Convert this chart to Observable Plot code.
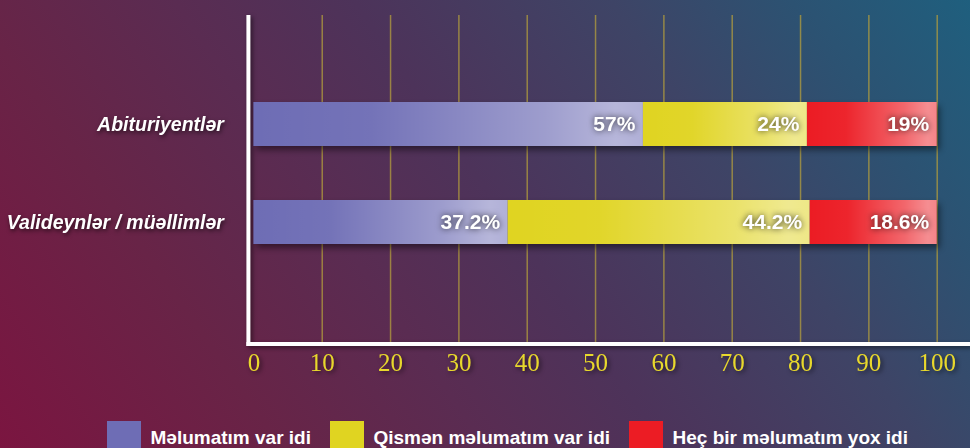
<!DOCTYPE html>
<html>
<head>
<meta charset="utf-8">
<script src="https://cdn.jsdelivr.net/npm/d3@7"></script>
<script src="https://cdn.jsdelivr.net/npm/@observablehq/plot@0.6"></script>
<style>
  html, body { margin: 0; padding: 0; width: 970px; height: 448px; overflow: hidden; }
  body {
    position: relative;
    background: linear-gradient(55deg, #7b1540 0%, #682447 22%, #5a2c52 38%, #4d335a 52%, #3e4466 72%, #2c5272 86%, #1f5f7e 100%);
    font-family: "Liberation Sans", Arial, sans-serif;
  }
  #chart { position: absolute; left: 0; top: 0; }
  #chart svg { background: transparent !important; overflow: visible; }
  #chart [aria-label^="x-axis"] text {
    fill: #e8d82c; font-family: "Liberation Serif", "Times New Roman", serif; font-size: 25px;
    filter: drop-shadow(2px 2px 2px rgba(0,0,0,0.55));
  }
  #chart [aria-label^="y-axis"] text {
    fill: #ffffff; font-family: "Liberation Sans", Arial, sans-serif; font-size: 19.5px;
    font-weight: bold; font-style: italic;
    filter: drop-shadow(1px 2px 2px rgba(0,0,0,0.6));
  }
  #chart g[aria-label="text"] { filter: drop-shadow(0px 0px 3px rgba(0,0,0,0.75)); }
  #legend { position: absolute; left: 107px; top: 421px; }
  #legend, #legend * {
    font-family: "Liberation Sans", Arial, sans-serif !important;
    font-size: 19px !important; font-weight: bold !important; color: #ffffff !important;
    background: transparent !important;
  }
  #legend > div { margin: 0 !important; }
</style>
</head>
<body>
<div id="chart"></div>
<div id="legend"></div>
<script>
// ---- data ----
const groups = ["Abituriyentlər", "Valideynlər / müəllimlər"];
const series = ["Məlumatım var idi", "Qismən məlumatım var idi", "Heç bir məlumatım yox idi"];
const abituriyentValues = [57, 24, 19];
const valideynValues = [37.2, 44.2, 18.6];
const xTicks = [0, 10, 20, 30, 40, 50, 60, 70, 80, 90, 100];
const seriesColors = ["#6e6db5", "#e0d421", "#ec1c24"];

const rows = [];
[abituriyentValues, valideynValues].forEach((vals, gi) => {
  vals.forEach((v, si) => rows.push({group: groups[gi], series: series[si], value: v}));
});

const ns = "http://www.w3.org/2000/svg";

// gradient definitions + white frame lines (positions derived from the scales / layout)
const decor = (index, scales, values, dims) => {
  const g = document.createElementNS(ns, "g");
  const x0 = scales.x(0) - 5;
  const yb = dims.height - dims.marginBottom + 1;
  g.innerHTML = `
    <defs>
      <linearGradient id="shine" x1="0" x2="1" y1="0" y2="0">
        <stop offset="0" stop-color="#ffffff" stop-opacity="0"/>
        <stop offset="0.3" stop-color="#ffffff" stop-opacity="0.04"/>
        <stop offset="0.75" stop-color="#ffffff" stop-opacity="0.33"/>
        <stop offset="0.93" stop-color="#ffffff" stop-opacity="0.5"/>
        <stop offset="1" stop-color="#ffffff" stop-opacity="0.46"/>
      </linearGradient>
    </defs>
    <g style="filter: drop-shadow(2px 2px 2px rgba(0,0,0,0.5))">
      <line x1="${x0}" y1="${dims.marginTop}" x2="${x0}" y2="${yb + 2}" stroke="#ffffff" stroke-width="4"/>
      <line x1="${x0 - 2}" y1="${yb}" x2="${dims.width}" y2="${yb}" stroke="#ffffff" stroke-width="4"/>
    </g>`;
  return g;
};

const chart = Plot.plot({
  width: 970,
  height: 400,
  marginLeft: 253.4,
  marginRight: 33.3,
  marginTop: 15,
  marginBottom: 57,
  style: {background: "transparent", color: "white", overflow: "visible"},
  x: {domain: [0, 100], ticks: xTicks, tickSize: 0, tickPadding: 10, label: null},
  y: {domain: groups, paddingInner: 0.552, paddingOuter: 0.943, align: 0.467, tickSize: 0, tickPadding: 30, label: null},
  color: {domain: series, range: seriesColors},
  marks: [
    Plot.ruleX(xTicks.filter(d => d > 0), {stroke: "#b39d3e", strokeOpacity: 0.75, strokeWidth: 1.5}),
    decor,
    Plot.barX(rows, Plot.stackX({x: "value", y: "group", fill: "series", z: "series"})),
    Plot.barX(rows, Plot.stackX({x: "value", y: "group", z: "series", fill: "url(#shine)"})),
    Plot.text(rows, Plot.stackX2({
      x: "value", y: "group", z: "series",
      text: d => d.value + "%",
      textAnchor: "end", dx: -8,
      fill: "white", fontSize: 21, fontWeight: "bold",
      fontFamily: "Liberation Sans, Arial, sans-serif"
    }))
  ]
});
// bar shadow on the coloured bar layer
const barGroups = chart.querySelectorAll('g[aria-label="bar"]');
if (barGroups.length) barGroups[0].setAttribute("style", "filter: drop-shadow(3px 4px 3px rgba(0,0,0,0.45))");
document.getElementById("chart").appendChild(chart);

const legend = Plot.legend({
  color: {domain: series, range: seriesColors},
  legend: "swatches",
  swatchWidth: 34,
  swatchHeight: 34
});
document.getElementById("legend").appendChild(legend);
</script>
</body>
</html>
